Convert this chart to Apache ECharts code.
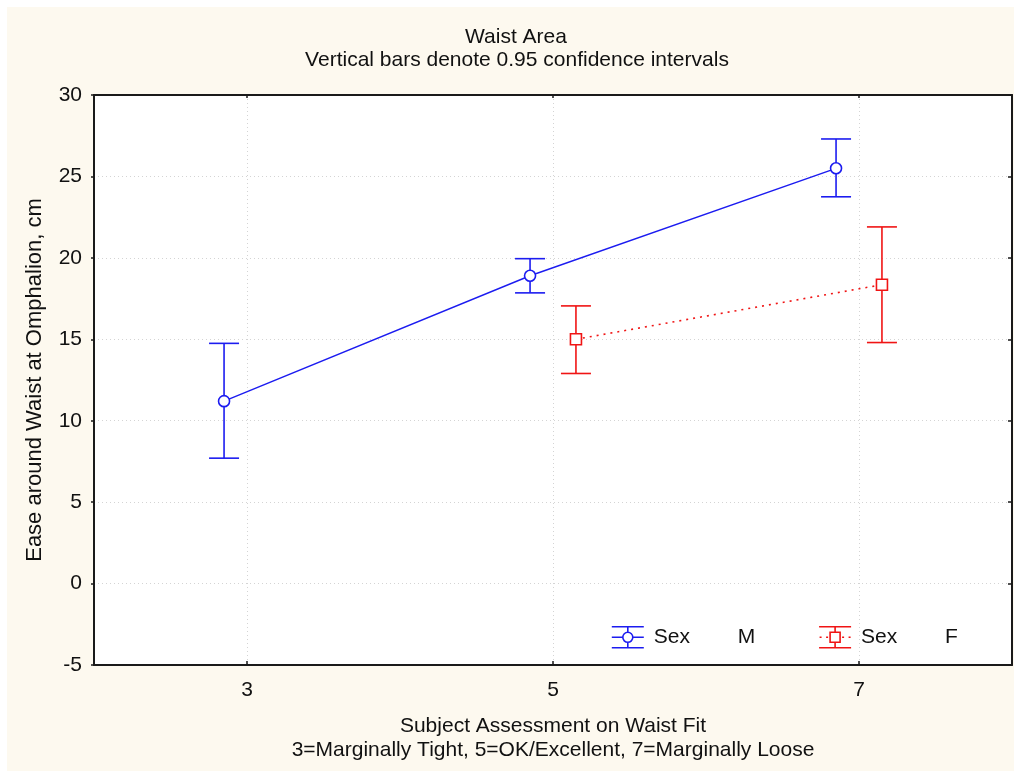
<!DOCTYPE html>
<html>
<head>
<meta charset="utf-8">
<title>Waist Area</title>
<script src="https://cdn.jsdelivr.net/npm/echarts@6/dist/echarts.min.js"></script>
<style>
  html, body { margin: 0; padding: 0; background: #ffffff; }
  #chart { position: absolute; left: 7px; top: 7px; width: 1007px; height: 764px; }
</style>
</head>
<body>
<div id="chart"></div>
<script>
// Subject assessment categories on the x axis
const categories = ['3', '5', '7'];

// Men: means and 0.95 confidence limits per category
const maleMean = [11.2, 18.9, 25.5];
const maleLow  = [7.7, 17.85, 23.75];
const maleHigh = [14.75, 19.95, 27.3];

// Women: no group at category 3
const femaleMean = [null, 15.0, 18.35];
const femaleLow  = [null, 12.9, 14.8];
const femaleHigh = [null, 17.05, 21.9];

const yMin = -5, yMax = 30, yStep = 5;

const FONT = '"Liberation Sans", Arial, Helvetica, sans-serif';
const BLUE = '#1c1cf0';
const RED = '#f01414';
const TEXT = '#111111';
const FS = 21;

// horizontal dodge of the two groups within a category band (fraction of band)
const DODGE = 0.075;

function points(means, shift) {
  const out = [];
  means.forEach((m, i) => { if (m != null) out.push([i + shift, m]); });
  return out;
}
function bars(lows, highs, shift) {
  const out = [];
  lows.forEach((lo, i) => { if (lo != null) out.push([i + shift, lo, highs[i]]); });
  return out;
}

function errorBars(color) {
  return function (params, api) {
    const x = api.value(0);
    const pLo = api.coord([x, api.value(1)]);
    const pHi = api.coord([x, api.value(2)]);
    const half = 15;
    const style = { stroke: color, lineWidth: 1.6, fill: null };
    return {
      type: 'group',
      children: [
        { type: 'line', shape: { x1: pLo[0], y1: pLo[1], x2: pHi[0], y2: pHi[1] }, style },
        { type: 'line', shape: { x1: pLo[0] - half, y1: pLo[1], x2: pLo[0] + half, y2: pLo[1] }, style },
        { type: 'line', shape: { x1: pHi[0] - half, y1: pHi[1], x2: pHi[0] + half, y2: pHi[1] }, style }
      ]
    };
  };
}

// legend glyphs: error bar with marker
const ICON_M = 'path://M0,0L32,0M0,21L32,21M16,0L16,5.5M16,15.5L16,21M0,10.5L11,10.5M21,10.5L32,10.5' +
  'M21,10.5A5,5,0,1,1,11,10.5A5,5,0,1,1,21,10.5Z';
const ICON_F = 'path://M0,0L32,0M0,21L32,21M16,0L16,5.5M16,15.5L16,21' +
  'M0.5,10.5L2.5,10.5M7,10.5L9,10.5M23,10.5L25,10.5M29.5,10.5L31.5,10.5' +
  'M11,5.5L21,5.5L21,15.5L11,15.5Z';

const chart = echarts.init(document.getElementById('chart'), null, { renderer: 'canvas' });

const gridLine = { show: true, lineStyle: { color: '#d4d4d4', type: [1, 3], width: 1 } };
const frameLine = { show: true, onZero: false, lineStyle: { color: '#1a1a1a', width: 2 } };

chart.setOption({
  animation: false,
  backgroundColor: '#fdf9ef',
  textStyle: { fontFamily: FONT, color: TEXT },
  title: [
    { text: 'Waist Area', left: 509, top: 20, textAlign: 'center', padding: 0,
      textStyle: { fontFamily: FONT, fontSize: FS, fontWeight: 'normal', color: TEXT } },
    { text: 'Vertical bars denote 0.95 confidence intervals', left: 510, top: 43, textAlign: 'center', padding: 0,
      textStyle: { fontFamily: FONT, fontSize: FS, fontWeight: 'normal', color: TEXT } }
  ],
  legend: {
    left: 604,
    top: 619,
    padding: 0,
    itemWidth: 32,
    itemHeight: 21,
    itemGap: 63,
    selectedMode: false,
    data: [
      { name: 'M', icon: ICON_M, itemStyle: { color: '#ffffff', borderColor: BLUE, borderWidth: 1.6 } },
      { name: 'F', icon: ICON_F, itemStyle: { color: '#ffffff', borderColor: RED, borderWidth: 1.6 } }
    ],
    formatter: name => '{a|Sex}{b|' + name + '}',
    textStyle: {
      fontFamily: FONT, fontSize: FS, color: TEXT,
      rich: {
        a: { fontFamily: FONT, fontSize: FS, color: TEXT, width: 84, padding: [0, 0, 0, 5] },
        b: { fontFamily: FONT, fontSize: FS, color: TEXT }
      }
    }
  },
  grid: { left: 87, top: 88, width: 918, height: 570, containLabel: false,
          show: true, backgroundColor: '#ffffff', borderWidth: 0 },
  xAxis: [
    {
      type: 'category', data: categories, position: 'bottom', boundaryGap: true,
      axisLine: frameLine,
      axisTick: { show: true, inside: true, alignWithLabel: true, length: 4, lineStyle: { color: '#1a1a1a', width: 1.5 } },
      axisLabel: { fontFamily: FONT, fontSize: FS, color: TEXT, margin: 15 },
      splitLine: Object.assign({ alignWithLabel: true }, gridLine),
      name: 'Subject Assessment on Waist Fit\n3=Marginally Tight, 5=OK/Excellent, 7=Marginally Loose',
      nameLocation: 'middle',
      nameGap: 49,
      nameTextStyle: { fontFamily: FONT, fontSize: FS, color: TEXT, lineHeight: 24, align: 'center', verticalAlign: 'top' }
    },
    {
      type: 'category', data: categories, position: 'top', boundaryGap: true,
      axisLine: frameLine,
      axisTick: { show: true, inside: true, alignWithLabel: true, length: 3, lineStyle: { color: '#1a1a1a', width: 1.5 } },
      axisLabel: { show: false },
      splitLine: { show: false }
    },
    {
      // numeric companion axis so each group can sit beside the category centre
      type: 'value', min: -0.5, max: 2.5, show: false,
      splitLine: { show: false }
    }
  ],
  yAxis: [
    {
      type: 'value', min: yMin, max: yMax, interval: yStep, position: 'left',
      axisLine: frameLine,
      axisTick: { show: true, inside: false, length: 3, lineStyle: { color: '#1a1a1a', width: 1.5 } },
      axisLabel: { fontFamily: FONT, fontSize: FS, color: TEXT, margin: 12 },
      splitLine: gridLine,
      name: 'Ease around Waist at Omphalion, cm',
      nameLocation: 'middle',
      nameGap: 48,
      nameTextStyle: { fontFamily: FONT, fontSize: FS + 1, color: TEXT }
    },
    {
      type: 'value', min: yMin, max: yMax, interval: yStep, position: 'right',
      axisLine: frameLine,
      axisTick: { show: true, inside: true, length: 4, lineStyle: { color: '#1a1a1a', width: 1.5 } },
      axisLabel: { show: false },
      splitLine: { show: false }
    }
  ],
  series: [
    {
      name: 'M', type: 'custom', xAxisIndex: 2, yAxisIndex: 0, z: 2,
      renderItem: errorBars(BLUE),
      encode: { x: 0, y: [1, 2] },
      data: bars(maleLow, maleHigh, -DODGE)
    },
    {
      name: 'F', type: 'custom', xAxisIndex: 2, yAxisIndex: 0, z: 2,
      renderItem: errorBars(RED),
      encode: { x: 0, y: [1, 2] },
      data: bars(femaleLow, femaleHigh, DODGE)
    },
    {
      name: 'M', type: 'line', xAxisIndex: 2, yAxisIndex: 0, z: 3,
      data: points(maleMean, -DODGE),
      symbol: 'circle', symbolSize: 11,
      itemStyle: { color: '#ffffff', borderColor: BLUE, borderWidth: 1.6 },
      lineStyle: { color: BLUE, width: 1.4 }
    },
    {
      name: 'F', type: 'line', xAxisIndex: 2, yAxisIndex: 0, z: 3,
      data: points(femaleMean, DODGE),
      symbol: 'rect', symbolSize: 11,
      itemStyle: { color: '#ffffff', borderColor: RED, borderWidth: 1.6 },
      lineStyle: { color: RED, width: 1.6, type: [2, 5] }
    }
  ]
});
</script>
</body>
</html>
